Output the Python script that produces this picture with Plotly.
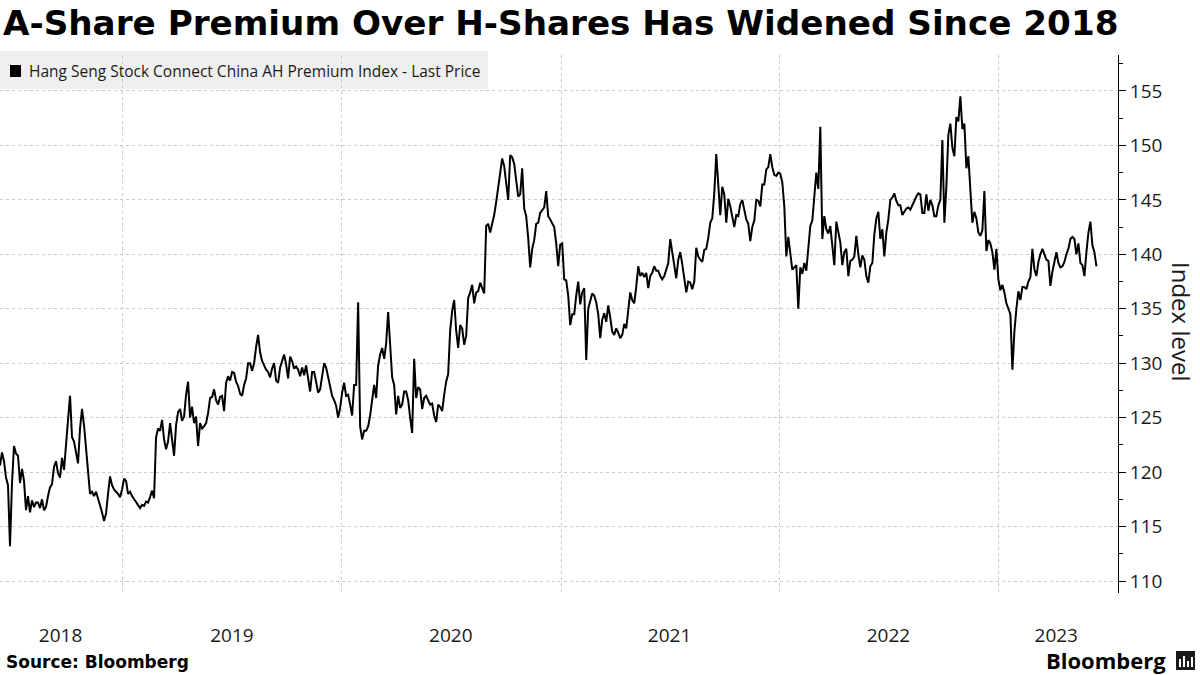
import pandas as pd
import plotly.graph_objects as go

# ---------------- text ----------------
title_text = "A-Share Premium Over H-Shares Has Widened Since 2018"
series_name = "Hang Seng Stock Connect China AH Premium Index - Last Price"
source_text = "Source: Bloomberg"
brand_text = "Bloomberg"
y_title = "Index level"

# ---------------- data ----------------
start_date = "2018-06-10"
end_date = "2023-06-13"

# Jun 2018 - Jan 2019
p1 = [120.6, 121.8, 121.0, 119.5, 118.8, 113.2, 119.0, 122.4, 121.7, 121.5,
      119.0, 120.3, 119.2, 116.5, 117.8, 116.3, 117.4, 116.8, 117.2, 117.2,
      116.7, 117.5, 116.5, 116.8, 117.8, 118.6, 118.9, 120.5, 121.0, 119.9,
      119.5, 121.3, 120.2, 123.0, 124.8, 127.0, 123.2, 122.8, 121.8, 120.8,
      124.0, 125.8, 124.3, 122.2, 120.2, 118.0, 118.2, 117.8, 118.2, 117.6,
      117.0, 116.3, 115.5, 116.2, 118.0, 119.6, 118.8, 118.4, 118.2, 118.0,
      117.7, 118.4, 119.4, 119.2, 118.0, 118.2, 117.8, 117.5, 117.3, 117.0]
# Jan 2019 - Sep 2019
p2 = [116.7, 117.0, 116.9, 117.3, 117.2, 117.7, 118.3, 117.6, 123.2, 124.0,
      123.8, 124.8, 123.0, 122.1, 122.8, 124.5, 123.2, 121.5, 124.3, 125.5,
      125.8, 124.7, 125.1, 127.1, 128.3, 125.0, 126.0, 124.5, 125.1, 122.4,
      124.5, 124.0, 124.2, 124.5, 125.4, 126.8, 126.9, 127.6, 126.6, 126.2,
      126.9, 127.0, 125.6, 128.2, 128.8, 128.4, 129.2, 129.1, 128.3, 127.9,
      127.2, 127.0, 128.0, 128.6, 130.0, 130.0, 129.3, 130.0, 131.5, 132.6,
      131.0, 130.2, 129.8, 129.4, 129.2, 128.7, 129.5, 130.0, 128.4, 128.2]
# Sep 2019 - May 2020
p3 = [129.6, 130.2, 130.8, 129.9, 128.6, 130.6, 130.2, 129.5, 129.7, 129.4,
      128.8, 129.6, 128.9, 129.8, 128.7, 127.4, 129.2, 129.2, 128.3, 127.3,
      127.6, 129.0, 130.0, 129.6, 128.7, 128.0, 127.0, 126.6, 126.1, 125.0,
      125.9, 127.3, 128.2, 127.0, 127.1, 126.2, 125.2, 128.0, 128.0, 135.6,
      124.2, 123.0, 123.8, 123.8, 124.2, 125.2, 126.8, 128.0, 126.8, 129.8,
      130.8, 131.4, 130.4, 131.8, 134.7, 131.5, 128.7, 128.0, 125.3, 127.0,
      125.9, 126.2, 127.4, 127.4, 126.6, 125.0, 123.6, 130.4, 126.8, 127.8]
# May 2020 - Dec 2020
p4 = [127.6, 125.8, 126.8, 127.0, 126.6, 126.2, 126.3, 125.2, 124.6, 126.2,
      126.0, 125.6, 127.1, 128.3, 129.0, 133.0, 134.8, 135.8, 133.0, 131.4,
      133.5, 133.2, 131.7, 132.5, 136.0, 136.5, 137.2, 135.5, 136.5, 136.6,
      137.4, 136.9, 136.4, 142.6, 142.8, 142.0, 142.7, 143.6, 144.8, 146.3,
      147.4, 148.8, 148.1, 146.5, 145.0, 149.1, 148.9, 148.3, 146.9, 145.3,
      145.5, 147.9, 144.2, 143.5, 141.5, 138.8, 140.5, 141.3, 142.8, 142.9,
      143.8, 144.0, 144.3, 145.8, 143.5, 143.2, 142.8, 142.5, 141.0, 138.9]
# Dec 2020 - Aug 2021
p5 = [140.9, 141.0, 137.7, 137.6, 136.2, 133.5, 134.5, 134.5, 136.2, 137.5,
      135.4, 136.5, 136.9, 130.3, 135.0, 135.8, 136.4, 136.2, 135.6, 134.5,
      132.3, 134.0, 134.6, 133.8, 135.3, 134.2, 132.9, 132.6, 133.2, 132.8,
      132.3, 132.6, 133.6, 133.2, 135.0, 136.5, 135.8, 135.5, 137.0, 138.9,
      138.0, 138.3, 137.9, 138.3, 136.9, 138.0, 138.3, 138.9, 138.5, 138.5,
      138.0, 137.7, 138.0, 138.5, 139.2, 141.4, 140.3, 138.8, 137.8, 139.5,
      140.2, 139.1, 137.7, 136.5, 137.5, 137.4, 136.8, 137.5, 140.6, 139.8]
# Aug 2021 - Apr 2022
p6 = [139.5, 139.3, 140.4, 140.5, 141.5, 142.9, 143.3, 145.6, 149.2, 146.6,
      143.6, 146.2, 145.5, 142.9, 145.1, 144.4, 143.4, 142.5, 143.6, 143.5,
      144.6, 145.0, 144.1, 143.2, 142.8, 141.2, 142.5, 143.1, 145.0, 144.9,
      144.4, 146.4, 146.4, 147.8, 148.0, 149.2, 148.0, 147.3, 147.2, 147.5,
      147.4, 146.6, 144.4, 139.8, 141.6, 139.8, 138.6, 138.8, 139.0, 135.0,
      138.8, 138.2, 139.2, 138.5, 140.5, 142.6, 143.1, 145.0, 147.5, 146.0,
      151.7, 141.4, 143.5, 142.3, 141.9, 142.6, 141.0, 139.0, 143.0, 142.0]
# Apr 2022 - Dec 2022
p7 = [141.1, 139.0, 140.2, 140.5, 138.0, 139.4, 139.5, 139.8, 141.7, 140.0,
      138.8, 139.9, 139.5, 138.0, 137.4, 138.9, 139.2, 141.8, 143.3, 143.9,
      141.4, 142.3, 139.8, 142.0, 143.2, 145.0, 145.2, 145.6, 144.9, 144.5,
      144.5, 143.6, 143.9, 144.2, 144.3, 144.1, 144.5, 145.0, 145.3, 145.6,
      145.5, 143.8, 143.8, 145.5, 144.0, 145.0, 144.5, 143.5, 143.5, 144.5,
      145.0, 150.5, 142.9, 146.2, 151.0, 152.0, 149.8, 149.0, 152.6, 152.2,
      154.5, 151.5, 152.0, 147.9, 149.0, 145.9, 142.9, 143.9, 143.3, 142.0]
# Dec 2022 - Jun 2023
p8 = [141.7, 142.2, 145.8, 140.3, 141.3, 141.0, 140.2, 138.6, 140.5, 137.7,
      136.7, 137.2, 136.5, 135.5, 134.9, 134.5, 129.4, 132.9, 135.0, 136.6,
      135.8, 137.0, 137.0, 136.8, 137.5, 137.9, 140.5, 138.6, 138.0, 139.3,
      140.0, 140.5, 140.0, 139.5, 139.4, 137.1, 138.4, 139.3, 140.2, 139.2,
      138.8, 138.9, 139.3, 140.0, 140.5, 141.4, 141.6, 141.4, 140.0, 141.0,
      139.2, 139.0, 138.0, 140.2, 142.0, 143.0, 140.8, 140.2, 138.9]

values = p1 + p2 + p3 + p4 + p5 + p6 + p7 + p8
dates = pd.date_range(start_date, end_date, periods=len(values))

year_labels = ["2018", "2019", "2020", "2021", "2022", "2023"]
year_label_dates = ["2018-09-19", "2019-07-02", "2020-07-01",
                    "2021-07-01", "2022-07-01", "2023-04-07"]
year_starts = ["2019-01-01", "2020-01-01", "2021-01-01", "2022-01-01", "2023-01-01"]
y_ticks = [110, 115, 120, 125, 130, 135, 140, 145, 150, 155]
x_range = ["2018-06-10", "2023-07-19"]
y_range = [108.9, 158.3]

# ---------------- layout geometry ----------------
W, H = 1200, 675
ML, MR, MT, MB = 0, 82, 55, 82
PW = W - ML - MR
PH = H - MT - MB


def px_x(p):
    return (p - ML) / PW


def px_y(p):
    return (H - MB - p) / PH


FONT = "Open Sans"
grid_col = "#c9c9c9"

fig = go.Figure()
fig.add_trace(go.Scatter(
    x=dates, y=values, mode="lines", name=series_name,
    line=dict(color="#000000", width=2), showlegend=False,
    hoverinfo="x+y",
))

fig.update_layout(
    width=W, height=H,
    margin=dict(l=ML, r=MR, t=MT, b=MB),
    paper_bgcolor="white", plot_bgcolor="white",
    showlegend=False,
    xaxis=dict(
        type="date", range=x_range,
        tickmode="array", tickvals=year_label_dates, ticktext=year_labels,
        ticks="outside", ticklen=25, tickcolor="rgba(0,0,0,0)",
        showgrid=False, zeroline=False, showline=False,
        tickfont=dict(family=FONT, size=19, color="#1a1a1a"),
        minor=dict(tickmode="array", tickvals=year_starts, showgrid=True,
                   gridcolor=grid_col, griddash="dot", gridwidth=1, ticks=""),
    ),
    yaxis=dict(
        side="right", range=y_range,
        tickmode="array", tickvals=y_ticks,
        showgrid=True, gridcolor=grid_col, griddash="dot", gridwidth=1,
        zeroline=False,
        showline=True, linecolor="#000000", linewidth=1,
        ticks="outside", ticklen=7, tickcolor="#000000", tickwidth=1,
        tickfont=dict(family=FONT, size=19, color="#1a1a1a"),
        minor=dict(tick0=107.5, dtick=2.5, ticks="outside", ticklen=4,
                   tickcolor="#000000", showgrid=False),
    ),
)

shapes = [
    # legend background box
    dict(type="rect", xref="paper", yref="paper",
         x0=px_x(0), x1=px_x(488), y0=px_y(89), y1=px_y(51),
         fillcolor="#efefef", line=dict(width=0), layer="below"),
    # legend square
    dict(type="rect", xref="paper", yref="paper",
         x0=px_x(10), x1=px_x(21), y0=px_y(77), y1=px_y(65),
         fillcolor="#000000", line=dict(width=0)),
    # Bloomberg icon
    dict(type="rect", xref="paper", yref="paper",
         x0=px_x(1176), x1=px_x(1195), y0=px_y(670), y1=px_y(651),
         fillcolor="#1a1a1a", line=dict(width=0)),
]
# white bars inside the icon
for bx0, bx1, btop in [(1179, 1181, 659), (1183, 1185, 656), (1187, 1189, 661), (1191, 1193, 657)]:
    shapes.append(dict(type="rect", xref="paper", yref="paper",
                       x0=px_x(bx0), x1=px_x(bx1), y0=px_y(667), y1=px_y(btop),
                       fillcolor="#ffffff", line=dict(width=0)))

annotations = [
    dict(text="<b>" + title_text + "</b>", xref="paper", yref="paper",
         x=px_x(1), y=px_y(23), xanchor="left", yanchor="middle",
         showarrow=False, font=dict(family="DejaVu Sans", size=34.2, color="#000000")),
    dict(text=series_name, xref="paper", yref="paper",
         x=px_x(27), y=px_y(71), xanchor="left", yanchor="middle",
         showarrow=False, font=dict(family=FONT, size=15.5, color="#1a1a1a")),
    dict(text=y_title, xref="paper", yref="paper", textangle=90,
         x=px_x(1182), y=px_y(321), xanchor="center", yanchor="middle",
         showarrow=False, font=dict(family=FONT, size=24, color="#1a1a1a")),
    dict(text="<b>" + source_text + "</b>", xref="paper", yref="paper",
         x=px_x(4), y=px_y(662), xanchor="left", yanchor="middle",
         showarrow=False, font=dict(family="DejaVu Sans", size=17, color="#000000")),
    dict(text="<b>" + brand_text + "</b>", xref="paper", yref="paper",
         x=px_x(1168), y=px_y(660), xanchor="right", yanchor="middle",
         showarrow=False, font=dict(family=FONT, size=22, color="#000000")),
]

fig.update_layout(shapes=shapes, annotations=annotations)
fig.write_html("out.html",
               config={"displayModeBar": False},
               post_script="document.body.style.margin='0';document.body.style.overflow='hidden';")
